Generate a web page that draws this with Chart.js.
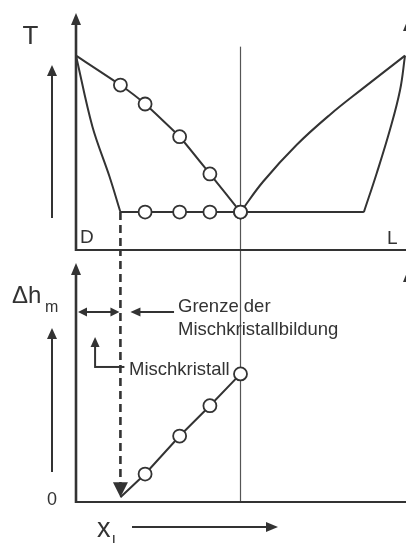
<!DOCTYPE html>
<html>
<head>
<meta charset="utf-8">
<script src="https://cdn.jsdelivr.net/npm/chart.js@4.4.1/dist/chart.umd.min.js"></script>
<style>
  html, body { margin: 0; padding: 0; background: #fff; }
  #wrap { position: relative; width: 406px; height: 543px; overflow: hidden; background: #fff; }
  canvas { position: absolute; left: 0; }
  #phase { top: 0; }
  #enth { top: 251px; }
</style>
</head>
<body>
<div id="wrap">
  <canvas id="phase" width="406" height="251" style="width:406px;height:251px"></canvas>
  <canvas id="enth" width="406" height="292" style="width:406px;height:292px"></canvas>
</div>
<script>
// Composition x_L runs from 0 (pure D) to 1 (pure L); T and Δh_m in relative units.
const liquidusDX = [0, 0.135, 0.21, 0.315, 0.407, 0.5];
const liquidusDT = [82, 69.6, 61.6, 47.8, 32.1, 16];
const solidusDX  = [0, 0.050, 0.102, 0.135];
const solidusDT  = [82, 52.0, 30.9, 16];
const liquidusLX = [0.5, 0.569, 0.671, 0.772, 0.873, 1];
const liquidusLT = [16, 28.9, 44.4, 57.1, 68.3, 82];
const solidusLX  = [0.875, 0.914, 0.954, 0.985, 1];
const solidusLT  = [16, 32.4, 50.6, 67.5, 82];

const eutecticX = 0.5;
const eutecticT = 16;
const limitDX = 0.135;   // end of the D-rich mixed-crystal range
const limitLX = 0.875;   // end of the L-rich mixed-crystal range
const eutecticMarkTopT = 85.8;

// Samples measured along the eutectic line and their melting enthalpy
const sampleX  = [0.21, 0.315, 0.407, 0.5];
const sampleDh = [11.7, 27.6, 40.3, 53.6];
const dhAtLimit = 2;

// Annotation anchors (data units of the Δh panel)
const bracketDh = 79.5;
const crystalDh = 56.5;

const INK = '#333333';
const FONT = '"Liberation Sans", Arial, Helvetica, sans-serif';

const zip = (xs, ys) => xs.map((x, i) => ({ x, y: ys[i] }));

function head(ctx, x, y, a, len, half) {
  const c = Math.cos(a), s = Math.sin(a);
  ctx.beginPath();
  ctx.moveTo(x, y);
  ctx.lineTo(x - len * c + half * s, y - len * s - half * c);
  ctx.lineTo(x - len * c - half * s, y - len * s + half * c);
  ctx.closePath();
  ctx.fill();
}

function arrow(ctx, x1, y1, x2, y2, o) {
  o = Object.assign({ lw: 2, len: 11, half: 5, both: false, color: INK }, o || {});
  const a = Math.atan2(y2 - y1, x2 - x1);
  const c = Math.cos(a), s = Math.sin(a);
  ctx.save();
  ctx.strokeStyle = o.color; ctx.fillStyle = o.color; ctx.lineWidth = o.lw;
  ctx.beginPath();
  const sx = o.both ? x1 + c * o.len * 0.8 : x1;
  const sy = o.both ? y1 + s * o.len * 0.8 : y1;
  ctx.moveTo(sx, sy);
  ctx.lineTo(x2 - c * o.len * 0.8, y2 - s * o.len * 0.8);
  ctx.stroke();
  head(ctx, x2, y2, a, o.len, o.half);
  if (o.both) head(ctx, x1, y1, a + Math.PI, o.len, o.half);
  ctx.restore();
}

function vline(ctx, x, y1, y2, lw, color, dash) {
  ctx.save();
  ctx.strokeStyle = color; ctx.lineWidth = lw;
  if (dash) ctx.setLineDash(dash);
  ctx.beginPath(); ctx.moveTo(x, y1); ctx.lineTo(x, y2); ctx.stroke();
  ctx.restore();
}

function text(ctx, str, x, y, size, align) {
  ctx.save();
  ctx.fillStyle = INK;
  ctx.font = size + 'px ' + FONT;
  ctx.textAlign = align || 'left';
  ctx.textBaseline = 'alphabetic';
  ctx.fillText(str, x, y);
  ctx.restore();
}

const lineStyle = {
  borderColor: INK, borderWidth: 2, backgroundColor: INK,
  pointRadius: 0, fill: false, clip: false, order: 2
};
const circleStyle = {
  pointBackgroundColor: '#fff', pointBorderColor: INK, pointBorderWidth: 1.8,
  pointRadius: 6.5, borderColor: INK, borderWidth: 2, clip: false
};

function baseOptions(padding, yMin, yMax) {
  return {
    responsive: false, maintainAspectRatio: false, animation: false,
    devicePixelRatio: 1, events: [],
    layout: { padding, autoPadding: false },
    plugins: { legend: { display: false }, tooltip: { enabled: false } },
    scales: {
      x: { type: 'linear', min: 0, max: 1, display: false },
      y: { type: 'linear', min: yMin, max: yMax, display: false }
    }
  };
}

// ---------- phase diagram T(x_L) ----------
const phaseFrame = {
  id: 'phaseFrame',
  beforeDatasetsDraw(chart) {
    const { ctx, chartArea: a, scales: { x, y } } = chart;
    const H = chart.height;
    vline(ctx, x.getPixelForValue(eutecticX), y.getPixelForValue(eutecticMarkTopT), H, 1.2, '#555');
    vline(ctx, x.getPixelForValue(limitDX), y.getPixelForValue(eutecticT), H + 2, 2.6, INK, [8, 5]);
    // axes
    arrow(ctx, a.left, a.bottom + 1, a.left, a.top, { lw: 2.6, len: 12, half: 5 });
    ctx.save(); ctx.strokeStyle = INK; ctx.lineWidth = 2;
    ctx.beginPath(); ctx.moveTo(a.left - 1, a.bottom); ctx.lineTo(chart.width, a.bottom); ctx.stroke();
    ctx.restore();
    arrow(ctx, a.right + 3, a.bottom, a.right + 3, a.top + 6, { lw: 2.6, len: 12, half: 5 });
  },
  afterDraw(chart) {
    const { ctx } = chart;
    text(ctx, 'T', 30.5, 44, 26, 'center');
    arrow(ctx, 52, 218, 52, 65, { lw: 2, len: 11, half: 5 });
    text(ctx, 'D', 80, 243, 19);
    text(ctx, 'L', 387, 244, 19);
  }
};

new Chart(document.getElementById('phase'), {
  type: 'line',
  data: {
    datasets: [
      Object.assign({}, lineStyle, circleStyle, {
        label: 'Liquidus (D-Seite)', data: zip(liquidusDX, liquidusDT),
        pointRadius: liquidusDX.map((_, i) => (i === 0 ? 0 : 6.5)), order: 1, tension: 0.15
      }),
      Object.assign({}, lineStyle, circleStyle, {
        label: 'Eutektikale', showLine: false,
        data: sampleX.map(v => ({ x: v, y: eutecticT })), order: 0
      }),
      Object.assign({}, lineStyle, {
        label: 'Eutektische Gerade',
        data: [{ x: limitDX, y: eutecticT }, { x: limitLX, y: eutecticT }]
      }),
      Object.assign({}, lineStyle, {
        label: 'Solidus (D-Seite)', data: zip(solidusDX, solidusDT), tension: 0.35
      }),
      Object.assign({}, lineStyle, {
        label: 'Liquidus (L-Seite)', data: zip(liquidusLX, liquidusLT), tension: 0.4
      }),
      Object.assign({}, lineStyle, {
        label: 'Solidus (L-Seite)', data: zip(solidusLX, solidusLT), tension: 0.4
      })
    ]
  },
  options: baseOptions({ left: 76, right: 1, top: 13, bottom: 1 }, 0, 100),
  plugins: [phaseFrame]
});

// ---------- melting enthalpy Δh_m(x_L) ----------
const enthFrame = {
  id: 'enthFrame',
  beforeDatasetsDraw(chart) {
    const { ctx, chartArea: a, scales: { x, y } } = chart;
    const xe = x.getPixelForValue(eutecticX);
    const xl = x.getPixelForValue(limitDX);
    vline(ctx, xe, 0, a.bottom, 1.2, '#555');
    // dashed drop line ending in an arrow at the composition axis
    const tipY = y.getPixelForValue(dhAtLimit);
    vline(ctx, xl, -3, tipY - 12, 2.6, INK, [8, 5]);
    ctx.save(); ctx.fillStyle = INK; head(ctx, xl, tipY, Math.PI / 2, 15, 7.5); ctx.restore();
    // axes
    arrow(ctx, a.left, a.bottom + 1, a.left, a.top, { lw: 2.6, len: 12, half: 5 });
    ctx.save(); ctx.strokeStyle = INK; ctx.lineWidth = 2;
    ctx.beginPath(); ctx.moveTo(a.left - 1, a.bottom); ctx.lineTo(chart.width, a.bottom); ctx.stroke();
    ctx.restore();
    arrow(ctx, a.right + 3, a.bottom, a.right + 3, a.top + 7, { lw: 2.6, len: 12, half: 5 });
  },
  afterDraw(chart) {
    const { ctx, chartArea: a, scales: { x, y } } = chart;
    const xl = x.getPixelForValue(limitDX);
    // y labels
    text(ctx, 'Δh', 12, 52, 24);
    text(ctx, 'm', 45, 61, 16);
    arrow(ctx, 52, 221, 52, 77, { lw: 2, len: 11, half: 5 });
    text(ctx, '0', 52, 254, 18, 'center');
    // x label
    text(ctx, 'x', 97, 286, 27);
    text(ctx, 'l', 112, 296, 16);
    arrow(ctx, 132, 276, 278, 276, { lw: 2, len: 12, half: 5 });
    // mixed-crystal range
    const yb = y.getPixelForValue(bracketDh);
    arrow(ctx, a.left + 2, yb, xl - 1, yb, { lw: 2, len: 9, half: 4.5, both: true });
    arrow(ctx, x.getPixelForValue(0.298), yb, xl + 10, yb, { lw: 2, len: 10, half: 4.5 });
    text(ctx, 'Grenze der', 178, 61, 18.5);
    text(ctx, 'Mischkristallbildung', 178, 84, 18.5);
    const yc = y.getPixelForValue(crystalDh);
    const xb = x.getPixelForValue(0.058);
    ctx.save(); ctx.strokeStyle = INK; ctx.lineWidth = 2;
    ctx.beginPath(); ctx.moveTo(xb, yc); ctx.lineTo(xl + 4, yc); ctx.stroke(); ctx.restore();
    arrow(ctx, xb, yc + 1, xb, yc - 30, { lw: 2, len: 10, half: 4.5 });
    text(ctx, 'Mischkristall', 129, 124, 18.5);
  }
};

new Chart(document.getElementById('enth'), {
  type: 'line',
  data: {
    datasets: [
      Object.assign({}, lineStyle, circleStyle, {
        label: 'Schmelzenthalpie',
        data: [{ x: limitDX, y: dhAtLimit }].concat(zip(sampleX, sampleDh)),
        pointRadius: [0].concat(sampleX.map(() => 6.5)), order: 1
      })
    ]
  },
  options: baseOptions({ left: 76, right: 1, top: 12, bottom: 41 }, 0, 100),
  plugins: [enthFrame]
});
</script>
</body>
</html>
